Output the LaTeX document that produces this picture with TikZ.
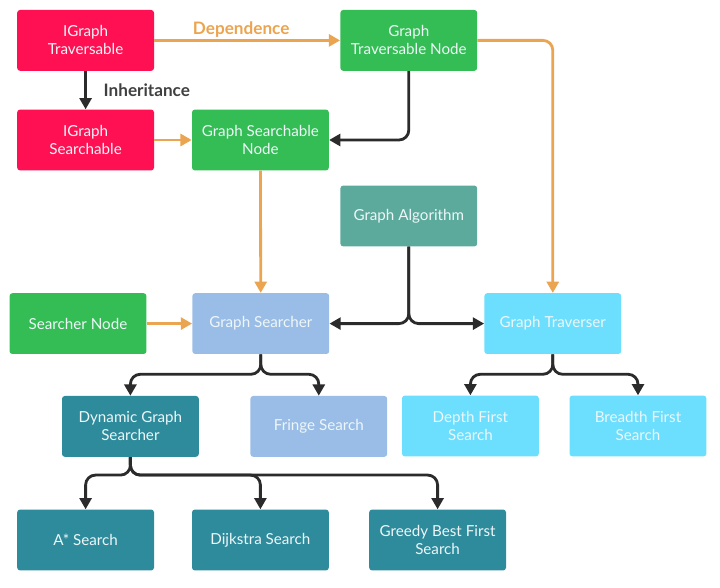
\documentclass[tikz,border=0pt]{standalone}
\usepackage{fontspec}
\setmainfont{Lato}
\usetikzlibrary{arrows.meta}

\definecolor{ifacered}{HTML}{FF1052}
\definecolor{nodegreen}{HTML}{34BD55}
\definecolor{algteal}{HTML}{5BAA9C}
\definecolor{searchblue}{HTML}{99BDE6}
\definecolor{travcyan}{HTML}{6CDFFF}
\definecolor{dynteal}{HTML}{2D8B9C}
\definecolor{deporange}{HTML}{EBA44F}
\definecolor{inhdark}{HTML}{2B2B2B}
\definecolor{boxtext}{HTML}{EEF6F8}

\begin{document}
\begin{tikzpicture}
        \tikzstyle{cls_box}     = [shape = rectangle, rounded corners = 2pt, minimum width = 3.42cm, minimum height = 1.52cm, align = center, text = boxtext, inner sep = 1pt, font = \fontsize{10.8}{12.8}\selectfont]
        \tikzstyle{dep_arrow}   = [draw = deporange, line width = 2pt, rounded corners = 7pt, -{Triangle[width = 8.5pt, length = 8pt]}]
        \tikzstyle{inh_arrow}   = [draw = inhdark, line width = 2pt, rounded corners = 7pt, -{Triangle[width = 8.5pt, length = 8pt]}]
        \tikzstyle{edge_label}  = [font = \fontsize{12.2}{14}\selectfont\bfseries]

        \useasboundingbox (0, 0) rectangle (18, -14.7);

        \node[cls_box, fill = ifacered]   at ( 2.14,  -1.01) (itrav)  {IGraph\\Traversable};
        \node[cls_box, fill = ifacered]   at ( 2.14,  -3.50) (isrch)  {IGraph\\Searchable};

        \node[cls_box, fill = nodegreen]  at (10.22,  -1.01) (gtnode) {Graph\\Traversable Node};
        \node[cls_box, fill = nodegreen]  at ( 6.51,  -3.50) (gsnode) {Graph Searchable\\Node};
        \node[cls_box, fill = algteal]    at (10.22,  -5.40) (galg)   {Graph Algorithm};

        \node[cls_box, fill = nodegreen]  at ( 1.95,  -8.09) (snode)  {Searcher Node};
        \node[cls_box, fill = searchblue] at ( 6.52,  -8.09) (gsrch)  {Graph Searcher};
        \node[cls_box, fill = travcyan]   at (13.82,  -8.09) (gtrav)  {Graph Traverser};

        \node[cls_box, fill = dynteal]    at ( 3.26, -10.66) (dyn)    {Dynamic Graph\\Searcher};
        \node[cls_box, fill = searchblue] at ( 7.97, -10.66) (fringe) {Fringe Search};
        \node[cls_box, fill = travcyan]   at (11.76, -10.65) (dfs)    {Depth First\\Search};
        \node[cls_box, fill = travcyan]   at (15.95, -10.65) (bfs)    {Breadth First\\Search};

        \node[cls_box, fill = dynteal]    at ( 2.14, -13.50) (astar)  {A* Search};
        \node[cls_box, fill = dynteal]    at ( 6.51, -13.50) (dijk)   {Dijkstra Search};
        \node[cls_box, fill = dynteal]    at (10.94, -13.50) (greedy) {Greedy Best First\\Search};

        \draw[dep_arrow] (itrav) -- node[edge_label, text = deporange, above = -2pt, xshift = -0.15cm] {Dependence} (gtnode);
        \draw[dep_arrow] (isrch) -- (gsnode);
        \draw[dep_arrow] (gtnode.east) -| (gtrav.north);
        \draw[dep_arrow] (gsnode) -- (gsrch);
        \draw[dep_arrow] (snode) -- (gsrch);

        \draw[inh_arrow] (itrav) -- node[edge_label, text = inhdark!90, right = 0.3cm] {Inheritance} (isrch);
        \draw[inh_arrow] (gtnode.south) |- (gsnode.east);
        \draw[inh_arrow] (galg.south) |- (gsrch.east);
        \draw[inh_arrow] (galg.south) |- (gtrav.west);

        \draw[inh_arrow] (gsrch.south) -- ++(0, -0.5) -| (dyn.north);
        \draw[inh_arrow] (gsrch.south) -- ++(0, -0.5) -| (fringe.north);
        \draw[inh_arrow] (gtrav.south) -- ++(0, -0.5) -| (dfs.north);
        \draw[inh_arrow] (gtrav.south) -- ++(0, -0.5) -| (bfs.north);

        \draw[inh_arrow] (dyn.south) -- ++(0, -0.45) -| (astar.north);
        \draw[inh_arrow] (dyn.south) -- ++(0, -0.45) -| (dijk.north);
        \draw[inh_arrow] (dyn.south) -- ++(0, -0.45) -| (greedy.north);
\end{tikzpicture}
\end{document}
